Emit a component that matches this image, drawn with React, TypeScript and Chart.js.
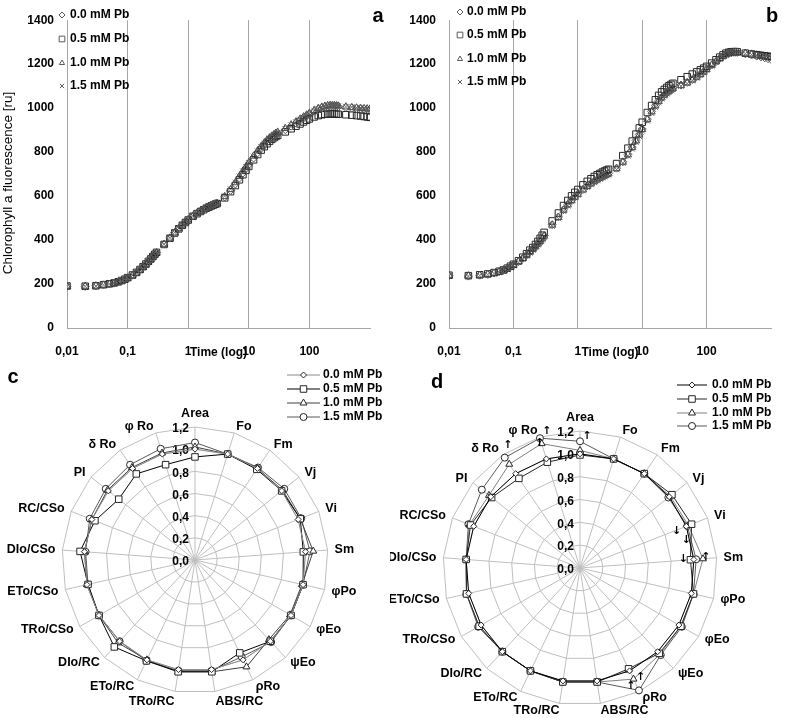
import React, { useEffect, useRef } from "react";
import { Chart, registerables } from "chart.js";
Chart.register(...registerables);

const FONT = "'Liberation Sans', Arial, sans-serif";

// ---------- OJIP data (time in ms) ----------
const times = [0.01,0.02,0.03,0.04,0.05,0.06,0.07,0.08,0.09,0.1,
0.12,0.14,0.16,0.18,0.2,0.22,0.24,0.26,0.28,0.3,
0.4,0.5,0.6,0.7,0.8,0.9,1,1.2,1.4,1.6,
1.8,2,2.2,2.4,2.6,2.8,3,4,5,6,
7,8,9,10,12,14,16,18,20,22,
24,26,28,30,40,50,60,70,80,90,
100,120,140,160,180,200,220,240,260,280,
300,400,500,600,700,800,900,1000];

const panelA_00 = [190,189,192,196,200,204,209,215,221,228,
240,252,265,278,290,302,313,324,334,343,
382,410,434,453,469,482,493,510,522,532,
540,547,552,557,561,565,568,596,626,655,
682,705,725,743,773,797,817,833,846,857,
866,873,879,884,902,918,932,944,955,964,
972,985,994,1000,1004,1007,1008,1009,1009,1008,
1007,1003,1000,998,997,996,995,994];
const panelA_05 = [191,190,192,197,201,205,210,216,222,229,
241,253,266,279,291,303,314,325,335,344,
380,408,432,451,467,480,491,508,520,530,
538,545,550,555,559,563,566,592,620,648,
674,697,717,735,765,789,809,825,838,849,
858,865,871,876,892,906,918,928,937,945,
951,960,966,970,972,973,974,974,974,973,
972,970,968,966,964,962,960,958];
const panelA_10 = [189,190,191,195,199,203,208,213,219,226,
238,250,263,276,288,300,311,322,332,341,
381,409,433,452,468,481,492,509,521,531,
539,546,551,556,560,564,567,598,630,661,
690,714,734,752,782,806,826,842,855,865,
873,880,886,891,908,924,938,950,960,969,
977,990,999,1005,1009,1012,1013,1013,1012,1011,
1010,1006,1003,1001,999,998,997,996];
const panelA_15 = [190,190,191,196,200,204,209,214,220,227,
239,251,264,277,289,301,312,323,333,342,
382,411,435,454,470,483,494,511,523,533,
541,548,553,558,562,566,569,600,632,662,
690,713,733,751,780,804,823,839,852,862,
870,877,883,888,906,922,936,948,958,967,
975,988,997,1003,1007,1010,1012,1012,1012,1011,
1010,1007,1005,1003,1002,1001,1000,999];

const panelB_00 = [238,236,240,244,250,256,262,270,278,287,
302,317,332,347,360,372,384,396,408,420,
470,505,538,562,582,597,610,630,646,658,
668,676,683,689,694,699,703,727,756,790,
823,853,880,905,950,985,1012,1033,1049,1061,
1071,1079,1086,1092,1105,1117,1130,1143,1155,1166,
1178,1196,1212,1226,1236,1244,1249,1252,1254,1254,
1254,1247,1242,1237,1233,1229,1225,1222];
const panelB_05 = [240,238,242,246,252,258,264,272,281,290,
306,322,338,354,366,380,394,408,422,435,
487,523,557,580,601,617,630,651,667,679,
689,697,703,709,714,718,722,748,784,818,
850,882,910,936,980,1012,1038,1058,1074,1085,
1094,1102,1108,1113,1129,1143,1155,1165,1174,1182,
1190,1205,1220,1232,1242,1250,1254,1256,1257,1257,
1256,1250,1246,1243,1240,1238,1236,1234];
const panelB_10 = [238,237,240,244,249,255,261,269,277,286,
301,316,331,345,358,370,382,394,406,418,
468,503,536,560,580,595,608,628,644,656,
666,674,681,687,692,697,701,725,754,788,
821,851,878,903,948,983,1010,1031,1047,1059,
1069,1077,1084,1090,1103,1115,1128,1141,1153,1164,
1176,1195,1211,1225,1236,1244,1249,1252,1254,1255,
1255,1250,1246,1242,1239,1236,1233,1230];
const panelB_15 = [237,236,239,243,248,254,260,267,275,284,
299,313,328,342,355,367,379,391,402,414,
463,498,531,556,576,592,605,625,641,653,
663,671,678,684,689,694,698,721,750,783,
815,845,872,897,942,977,1004,1026,1043,1056,
1066,1074,1081,1087,1100,1112,1125,1138,1150,1161,
1173,1192,1209,1223,1234,1242,1247,1250,1252,1252,
1252,1248,1244,1241,1238,1235,1232,1229];

const seriesNames = ["0.0 mM Pb", "0.5 mM Pb", "1.0 mM Pb", "1.5 mM Pb"];
const xTickValues = [0.01, 0.1, 1, 10, 100, 1000];
const xTickLabels = ["0,01", "0,1", "1", "10", "100", ""];
const yTickStep = 200;
const yMax = 1400;

// ---------- JIP-test radar data (relative to control) ----------
const radarLabels = ["Area","Fo","Fm","Vj","Vi","Sm","φPo","φEo","ψEo","ρRo","ABS/RC","TRo/RC","ETo/RC","DIo/RC","TRo/CSo","ETo/CSo","DIo/CSo","RC/CSo","PI","δ Ro","φ Ro"];
const radarTickValues = [0, 0.2, 0.4, 0.6, 0.8, 1.0, 1.2];
const radarTickLabels = ["0,0", "0,2", "0,4", "0,6", "0,8", "1,0", "1,2"];

const panelC_00 = [1,1,1,1,1,1,1,1,1,1,1,1,1,1,1,1,1,1,1,1,1];
const panelC_05 = [0.93,1.0,0.99,1.0,1.02,0.98,1.0,1.0,1.0,0.93,1.02,1.02,1.01,1.07,1.0,0.99,1.04,0.97,0.88,0.94,0.90];
const panelC_10 = [1.02,1.0,1.0,1.01,1.02,1.07,0.99,0.99,0.98,1.07,1.02,1.02,1.0,1.02,1.0,1.0,1.0,1.0,1.01,1.01,1.01];
const panelC_15 = [1.06,1.0,1.01,1.03,1.03,1.04,1.0,1.0,1.01,0.97,1.01,1.01,1.01,1.0,1.0,0.99,0.99,1.02,1.03,1.04,1.05];

const panelD_00 = [1,1,1,1,1,1,1,1,1,1,1,1,1,1,1,1,1,1,1,1,1];
const panelD_05 = [0.99,1.0,1.0,1.03,1.05,0.97,1.02,1.02,1.02,0.98,1.01,1.01,1.0,1.0,1.02,1.02,1.0,1.03,0.99,0.95,0.97];
const panelD_10 = [1.03,1.0,1.0,1.01,1.02,1.08,1.02,1.02,1.03,1.08,1.01,1.01,1.0,1.0,1.02,1.02,1.0,1.04,1.02,1.10,1.14];
const panelD_15 = [1.11,1.0,1.0,0.99,1.01,1.02,1.02,1.03,1.04,1.19,1.01,1.01,1.0,1.0,1.03,1.02,1.0,1.05,1.10,1.17,1.19];

// significance arrows in panel d: [label index, value, direction]
const arrowIndex = [0, 20, 20, 19, 4, 5, 5, 5, 9, 9];
const arrowValue = [1.11, 1.19, 1.14, 1.17, 1.05, 0.97, 0.97, 1.08, 1.08, 1.19];
const arrowDir = ["↑", "↑", "↑", "↑", "↓", "↓", "↓", "↑", "↑", "↑"];
const arrowOffset: [number, number][] = [[7,-5],[7,-7],[-2,0],[3,-12],[-15,7],[-4,-20],[-7,-1],[3,-2],[7,-2],[-8,-4]];

// ---------- styles ----------
const scatterStyles = ["rectRot", "rect", "triangle", "crossRot"];
const scatterRadius = [4, 4.6, 4.2, 4];
const scatterColors = ["#595959", "#262626", "#4d4d4d", "#737373"];
const radarStyles = ["rectRot", "rect", "triangle", "circle"];
const radarRadius = [3, 4.6, 4, 3.5];
const radarColorsC = ["#8c8c8c", "#000000", "#404040", "#595959"];
const radarColorsD = ["#000000", "#262626", "#808080", "#595959"];

function drawMarker(ctx: CanvasRenderingContext2D, style: string, x: number, y: number, r: number, stroke: string, fill: string | null) {
  ctx.save();
  ctx.beginPath();
  ctx.lineWidth = 1;
  ctx.strokeStyle = stroke;
  if (style === "rectRot") {
    ctx.moveTo(x, y - r); ctx.lineTo(x + r, y); ctx.lineTo(x, y + r); ctx.lineTo(x - r, y); ctx.closePath();
  } else if (style === "rect") {
    const s = r * Math.SQRT1_2; ctx.rect(x - s, y - s, 2 * s, 2 * s);
  } else if (style === "triangle") {
    for (let k = 0; k < 3; k++) {
      const a = (k * 2 * Math.PI) / 3;
      const px = x + Math.sin(a) * r, py = y - Math.cos(a) * r;
      if (k === 0) ctx.moveTo(px, py); else ctx.lineTo(px, py);
    }
    ctx.closePath();
  } else if (style === "crossRot") {
    const s = r * Math.SQRT1_2;
    ctx.moveTo(x - s, y - s); ctx.lineTo(x + s, y + s); ctx.moveTo(x - s, y + s); ctx.lineTo(x + s, y - s);
  } else {
    ctx.arc(x, y, r, 0, Math.PI * 2);
  }
  if (fill && style !== "crossRot") { ctx.fillStyle = fill; ctx.fill(); }
  ctx.stroke();
  ctx.restore();
}

type ScatterCfg = {
  series: number[][];
  yWidth: number;
  padRight: number;
  letter: string;
  letterX: number;
  legendMarkerX: number;
  legendTextX: number;
  legendRows: number[];
  yTitle?: string;
};

function makeScatter(canvas: HTMLCanvasElement, cfg: ScatterCfg) {
  const decor = {
    id: "scatterDecor",
    afterDraw(chart: any) {
      const ctx: CanvasRenderingContext2D = chart.ctx;
      const ca = chart.chartArea;
      ctx.save();
      ctx.fillStyle = "#000";
      ctx.textBaseline = "middle";
      cfg.legendRows.forEach((y, i) => {
        drawMarker(ctx, scatterStyles[i], cfg.legendMarkerX, y, i === 1 ? 4 : 3, "#595959", null);
        ctx.font = `bold 12px ${FONT}`;
        ctx.textAlign = "left";
        ctx.fillStyle = "#000";
        ctx.fillText(seriesNames[i], cfg.legendTextX, y);
      });
      ctx.font = `bold 12px ${FONT}`;
      ctx.textAlign = "center";
      ctx.fillText("Time (log)", (ca.left + ca.right) / 2, 353);
      ctx.font = `bold 20px ${FONT}`;
      ctx.fillText(cfg.letter, cfg.letterX, 16);
      if (cfg.yTitle) {
        ctx.translate(8, 183);
        ctx.rotate(-Math.PI / 2);
        ctx.font = `13.5px ${FONT}`;
        ctx.fillText(cfg.yTitle, 0, 0);
      }
      ctx.restore();
    },
  };
  return new Chart(canvas, {
    type: "scatter",
    data: {
      datasets: cfg.series.map((vals, i) => ({
        label: seriesNames[i],
        data: times.map((t, k) => ({ x: t, y: vals[k] })),
        pointStyle: scatterStyles[i] as any,
        pointRadius: scatterRadius[i],
        pointBorderColor: scatterColors[i],
        pointBackgroundColor: "rgba(0,0,0,0)",
        pointBorderWidth: 1,
        showLine: false,
      })),
    },
    options: {
      animation: false,
      responsive: false,
      devicePixelRatio: 1,
      layout: { padding: { left: 0, top: 7, right: cfg.padRight, bottom: 0 } },
      plugins: { legend: { display: false }, tooltip: { enabled: false } },
      scales: {
        x: {
          type: "logarithmic",
          min: 0.01,
          max: 1000,
          afterBuildTicks: (s: any) => { s.ticks = xTickValues.map((v) => ({ value: v })); },
          afterFit: (s: any) => { s.height = 37; },
          ticks: {
            autoSkip: false,
            maxRotation: 0,
            padding: 16,
            color: "#000",
            font: { family: FONT, size: 12, weight: "bold" },
            callback: (_v: any, idx: number) => xTickLabels[idx],
          },
          grid: {
            drawTicks: false,
            color: (c: any) => (c.tick && c.tick.value >= 1000 ? "rgba(0,0,0,0)" : "#a6a6a6"),
          },
          border: { color: "#a6a6a6" },
        },
        y: {
          min: 0,
          max: yMax,
          afterFit: (s: any) => { s.width = cfg.yWidth; },
          ticks: {
            stepSize: yTickStep,
            padding: 13,
            color: "#000",
            font: { family: FONT, size: 12, weight: "bold" },
            callback: (v: any) => String(v),
          },
          grid: { display: false, drawTicks: false },
          border: { display: true, color: "#a6a6a6" },
        },
      },
    } as any,
    plugins: [decor],
  });
}

type RadarCfg = {
  series: number[][];
  colors: string[];
  padding: { left: number; right: number; top: number; bottom: number };
  letter: string;
  letterX: number;
  letterY: number;
  legendX1: number;
  legendX2: number;
  legendTextX: number;
  legendRows: number[];
  bottomGap: number;
  arrows?: boolean;
};

function makeRadar(canvas: HTMLCanvasElement, cfg: RadarCfg) {
  const n = radarLabels.length;
  const decor = {
    id: "radarDecor",
    beforeDatasetsDraw(chart: any) {
      const ctx: CanvasRenderingContext2D = chart.ctx;
      const sc = chart.scales.r;
      ctx.save();
      ctx.fillStyle = "#000";
      ctx.font = `bold 12px ${FONT}`;
      ctx.textAlign = "right";
      ctx.textBaseline = "middle";
      radarTickValues.forEach((v, i) => {
        const d = sc.getDistanceFromCenterForValue(v);
        ctx.fillText(radarTickLabels[i], sc.xCenter - 6, sc.yCenter - d + 2);
      });
      ctx.restore();
    },
    afterDraw(chart: any) {
      const ctx: CanvasRenderingContext2D = chart.ctx;
      const sc = chart.scales.r;
      ctx.save();
      ctx.fillStyle = "#000";
      ctx.font = `bold 12.5px ${FONT}`;
      for (let i = 0; i < n; i++) {
        const ang = (i * 360) / n;
        const bottomRow = ang > 165 && ang < 195;
        const p = sc.getPointPosition(i, sc.drawingArea + (bottomRow ? cfg.bottomGap : 7));
        ctx.textAlign = ang < 3 || ang > 357 ? "center" : ang < 177 ? "left" : ang < 183 ? "center" : "right";
        ctx.textBaseline = ang < 10 || ang > 350 ? "bottom" : bottomRow ? "top" : "middle";
        ctx.fillText(radarLabels[i], p.x, p.y);
      }
      // legend
      cfg.legendRows.forEach((y, i) => {
        ctx.beginPath();
        ctx.strokeStyle = cfg.colors[i];
        ctx.lineWidth = 1;
        ctx.moveTo(cfg.legendX1, y);
        ctx.lineTo(cfg.legendX2, y);
        ctx.stroke();
        drawMarker(ctx, radarStyles[i], (cfg.legendX1 + cfg.legendX2) / 2, y, radarRadius[i], "#262626", "#fff");
        ctx.fillStyle = "#000";
        ctx.font = `bold 12px ${FONT}`;
        ctx.textAlign = "left";
        ctx.textBaseline = "middle";
        ctx.fillText(seriesNames[i], cfg.legendTextX, y);
      });
      // letter
      ctx.font = `bold 20px ${FONT}`;
      ctx.textAlign = "center";
      ctx.textBaseline = "middle";
      ctx.fillText(cfg.letter, cfg.letterX, cfg.letterY);
      // arrows
      if (cfg.arrows) {
        ctx.font = `bold 11px 'DejaVu Sans', sans-serif`;
        arrowIndex.forEach((idx, k) => {
          const p = sc.getPointPositionForValue(idx, arrowValue[k]);
          ctx.fillText(arrowDir[k], p.x + arrowOffset[k][0], p.y + arrowOffset[k][1]);
        });
      }
      ctx.restore();
    },
  };
  return new Chart(canvas, {
    type: "radar",
    data: {
      labels: radarLabels,
      datasets: cfg.series.map((vals, i) => ({
        label: seriesNames[i],
        data: vals,
        borderColor: cfg.colors[i],
        borderWidth: 1,
        fill: false,
        pointStyle: radarStyles[i] as any,
        pointRadius: radarRadius[i],
        pointBackgroundColor: "#fff",
        pointBorderColor: "#262626",
        pointBorderWidth: 1,
      })),
    },
    options: {
      animation: false,
      responsive: false,
      devicePixelRatio: 1,
      layout: { padding: cfg.padding },
      plugins: { legend: { display: false }, tooltip: { enabled: false } },
      elements: { line: { tension: 0 } },
      scales: {
        r: {
          min: 0,
          max: 1.2,
          ticks: { display: false, stepSize: 0.2 },
          pointLabels: { display: false },
          grid: { color: "#bfbfbf", circular: false },
          angleLines: { color: "#bfbfbf" },
        },
      },
    } as any,
    plugins: [decor],
  });
}

export default function App() {
  const aRef = useRef<HTMLCanvasElement>(null);
  const bRef = useRef<HTMLCanvasElement>(null);
  const cRef = useRef<HTMLCanvasElement>(null);
  const dRef = useRef<HTMLCanvasElement>(null);

  useEffect(() => {
    const charts: Chart[] = [];
    charts.push(
      makeScatter(aRef.current!, {
        series: [panelA_00, panelA_05, panelA_10, panelA_15],
        yWidth: 67,
        padRight: 20,
        letter: "a",
        letterX: 378,
        legendMarkerX: 62,
        legendTextX: 70,
        legendRows: [15, 39, 63, 86],
        yTitle: "Chlorophyll a fluorescence [ru]",
      })
    );
    charts.push(
      makeScatter(bRef.current!, {
        series: [panelB_00, panelB_05, panelB_10, panelB_15],
        yWidth: 59,
        padRight: 13,
        letter: "b",
        letterX: 382,
        legendMarkerX: 70,
        legendTextX: 77,
        legendRows: [12, 35, 59, 82],
      })
    );
    charts.push(
      makeRadar(cRef.current!, {
        series: [panelC_00, panelC_05, panelC_10, panelC_15],
        colors: radarColorsC,
        padding: { left: 62, right: 62, top: 62, bottom: 25 },
        letter: "c",
        letterX: 13,
        letterY: 12,
        legendX1: 287,
        legendX2: 320,
        legendTextX: 323,
        legendRows: [10, 24, 38, 52],
        bottomGap: 4,
      })
    );
    charts.push(
      makeRadar(dRef.current!, {
        series: [panelD_00, panelD_05, panelD_10, panelD_15],
        colors: radarColorsD,
        padding: { left: 53, right: 70, top: 66, bottom: 13 },
        letter: "d",
        letterX: 47,
        letterY: 17,
        legendX1: 287,
        legendX2: 317,
        legendTextX: 322,
        legendRows: [20, 34, 48, 61],
        bottomGap: 1,
        arrows: true,
      })
    );
    return () => charts.forEach((c) => c.destroy());
  }, []);

  const pos = (l: number, t: number): React.CSSProperties => ({ position: "absolute", left: l, top: t });
  return (
    <div style={{ position: "absolute", left: 0, top: 0, width: 787, height: 718, background: "#fff", overflow: "hidden" }}>
      <canvas ref={aRef} width={390} height={365} style={pos(0, 0)} />
      <canvas ref={bRef} width={397} height={365} style={pos(390, 0)} />
      <canvas ref={cRef} width={390} height={353} style={pos(0, 365)} />
      <canvas ref={dRef} width={397} height={353} style={pos(390, 365)} />
    </div>
  );
}
